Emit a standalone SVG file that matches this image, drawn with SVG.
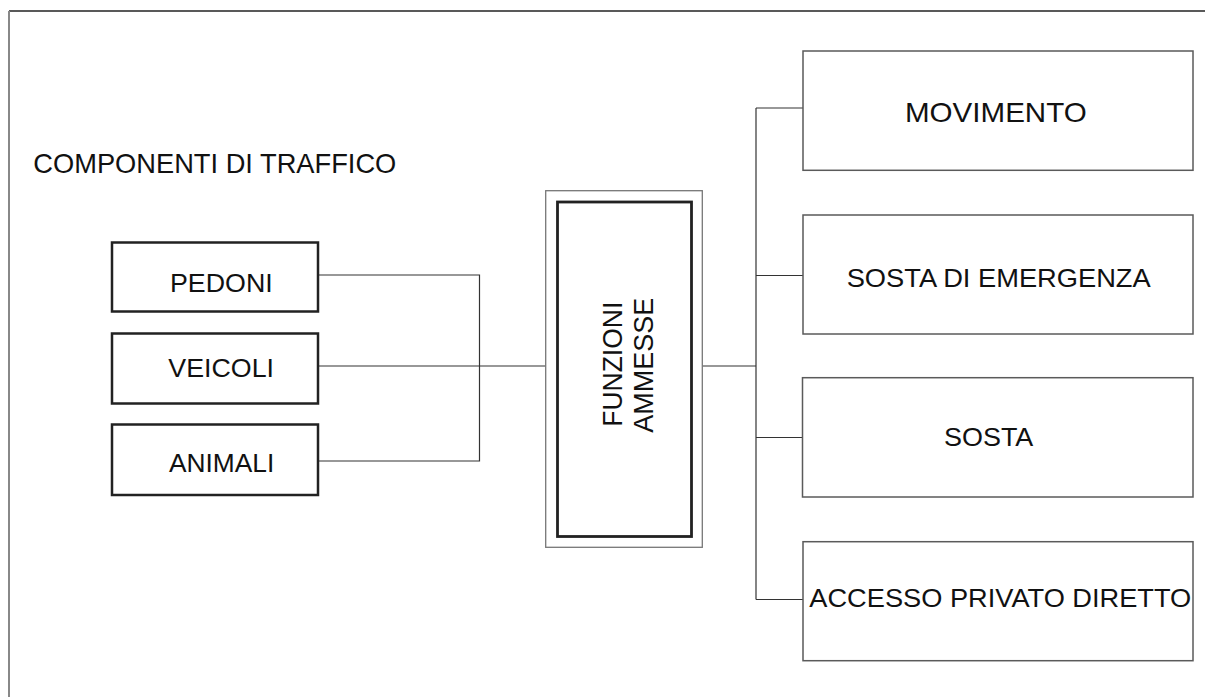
<svg xmlns="http://www.w3.org/2000/svg" width="1205" height="697" viewBox="0 0 1205 697">
<style>
text{font-family:"Liberation Sans",Arial,sans-serif;font-size:26.5px;fill:#111}
.small{font-size:25px}
.big{font-size:28px}
.lbox{fill:#fff;stroke:#222;stroke-width:2.5}
.rbox{fill:#fff;stroke:#5a5a5a;stroke-width:1.5}
.conn{fill:none;stroke:#333;stroke-width:1.2}
</style>
<rect width="1205" height="697" fill="#fff"/>
<g id="frame">
<line x1="9" y1="11" x2="1205" y2="11" stroke="#222" stroke-width="1.5"/>
<line x1="9" y1="11" x2="9" y2="697" stroke="#888" stroke-width="2"/>
</g>
<g id="title"><text class="big" x="33.3" y="173.3" textLength="363" lengthAdjust="spacingAndGlyphs">COMPONENTI DI TRAFFICO</text></g>
<g id="connectors">
<polyline class="conn" points="318,275 479.5,275 479.5,461 318,461"/>
<line class="conn" x1="318" y1="366" x2="546" y2="366"/>
<line class="conn" x1="702" y1="366" x2="756" y2="366"/>
<line class="conn" x1="756" y1="108" x2="756" y2="599.5"/>
<line class="conn" x1="756" y1="108" x2="803" y2="108"/>
<line class="conn" x1="756" y1="275.5" x2="803" y2="275.5"/>
<line class="conn" x1="756" y1="437.5" x2="803" y2="437.5"/>
<line class="conn" x1="756" y1="599.5" x2="803" y2="599.5"/>
</g>
<g id="pedoni"><rect class="lbox" x="112" y="242.5" width="206" height="69"/><text class="small" x="170" y="291.7" textLength="102.7" lengthAdjust="spacingAndGlyphs">PEDONI</text></g>
<g id="veicoli"><rect class="lbox" x="112" y="333.5" width="206" height="70"/><text class="small" x="168.3" y="376.7" textLength="105.7" lengthAdjust="spacingAndGlyphs">VEICOLI</text></g>
<g id="animali"><rect class="lbox" x="112" y="424.5" width="206" height="70.5"/><text class="small" x="169" y="472.3" textLength="105.3" lengthAdjust="spacingAndGlyphs">ANIMALI</text></g>
<g id="funzioni">
<rect x="545.7" y="190.7" width="156.6" height="356.6" fill="#fff" stroke="#777" stroke-width="1.3"/>
<rect x="557.5" y="202" width="134" height="334.5" fill="#fff" stroke="#222" stroke-width="2.8"/>
<text class="big" transform="translate(621.7,364.2) rotate(-90)" text-anchor="middle" textLength="125" lengthAdjust="spacingAndGlyphs">FUNZIONI</text>
<text class="big" transform="translate(653.3,365.2) rotate(-90)" text-anchor="middle" textLength="135" lengthAdjust="spacingAndGlyphs">AMMESSE</text>
</g>
<g id="movimento"><rect class="rbox" x="803" y="51" width="390" height="119.3"/><text class="big" x="905" y="121.7" textLength="181.7" lengthAdjust="spacingAndGlyphs">MOVIMENTO</text></g>
<g id="emergenza"><rect class="rbox" x="803" y="215" width="390" height="119"/><text x="846.7" y="287.3" textLength="304" lengthAdjust="spacingAndGlyphs">SOSTA DI EMERGENZA</text></g>
<g id="sosta"><rect class="rbox" x="802.5" y="377.7" width="390.5" height="119.3"/><text x="944" y="446" textLength="89.3" lengthAdjust="spacingAndGlyphs">SOSTA</text></g>
<g id="accesso"><rect class="rbox" x="803" y="541.7" width="390" height="119"/><text x="809.3" y="607.3" textLength="382" lengthAdjust="spacingAndGlyphs">ACCESSO PRIVATO DIRETTO</text></g>
</svg>
